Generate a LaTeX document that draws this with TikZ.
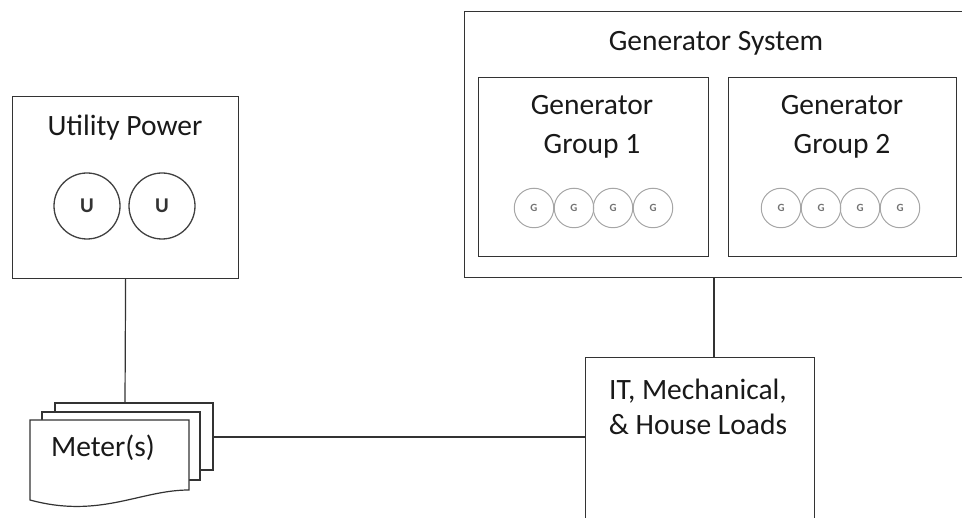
\documentclass[tikz,border=0pt]{standalone}
\usepackage{fontspec}
\setmainfont{Carlito}
\begin{document}
\begin{tikzpicture}[x=1pt,y=-1pt,
  box/.style={draw=black!80, line width=1.2pt, inner sep=0pt, anchor=north west},
  title/.style={font=\fontsize{29.5}{39}\selectfont, align=center, text=black!90, inner sep=0pt},
  ubub/.style={circle, draw=black!75, line width=1.3pt, minimum size=66pt, inner sep=0pt, text=black!80, font=\fontsize{21}{21}\selectfont\bfseries},
  gbub/.style={circle, draw=black!35, line width=1pt, minimum size=39.5pt, inner sep=0pt, text=black!55, font=\fontsize{11}{11}\selectfont\bfseries},
  wire/.style={draw=black!80, line width=1.2pt}]
\clip (0,0) rectangle (962,518);
% utility side
\node[box, minimum width=226pt, minimum height=182pt] (utility) at (12,96) {};
\node[title] (utitle) at (125,128) {Utility Power};
\node[ubub] (u1) at (87,206) {U};
\node[ubub] (u2) at (162,206) {U};
% meters
\draw[wire] (55,412) -- (55,403) -- (213,403) -- (213,470) -- (200,470);
\draw[wire] (42,420) -- (42,412) -- (200,412) -- (200,480) -- (189,480);
\draw[wire, fill=white] (30,420) -- (189,420) -- (189,490) .. controls (140,490) and (100,519) .. (30,500) -- cycle;
\node[title] (meter) at (103,448) {Meter(s)};
\coordinate (mtop) at (125,403);
\coordinate (mright) at (213,437);
% generator side
\node[box, minimum width=510pt, minimum height=266pt] (gensys) at (464,11) {};
\node[title] (gtitle) at (716,43) {Generator System};
\node[box, minimum width=230pt, minimum height=179pt] (group1) at (478,77) {};
\node[box, minimum width=228pt, minimum height=179pt] (group2) at (728,77) {};
\node[title] (g1title) at (592,126.5) {Generator\\Group 1};
\node[title] (g2title) at (842,126.5) {Generator\\Group 2};
\foreach \i/\gx in {1/534,2/574,3/613,4/653}
  \node[gbub] (ga\i) at (\gx,208) {G};
\foreach \i/\gx in {1/781,2/821,3/860,4/900}
  \node[gbub] (gb\i) at (\gx,208) {G};
% loads
\node[box, minimum width=229pt, minimum height=180pt] (loads) at (585,357) {};
\node[title, font=\fontsize{29.5}{35}\selectfont] (ltitle) at (698,407) {IT, Mechanical,\\\& House Loads};
\coordinate (gtap) at (714,357);
% connectors
\draw[wire] (utility.south) -- (mtop);
\draw[wire] (mright) -- (loads.west |- mright);
\draw[wire] (gtap |- gensys.south) -- (gtap);
\end{tikzpicture}
\end{document}
